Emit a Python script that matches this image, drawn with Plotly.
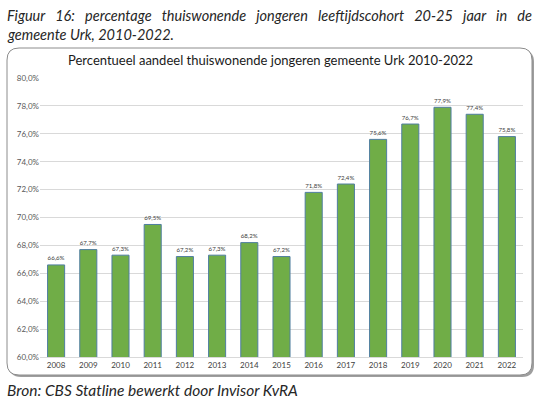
import plotly.graph_objects as go

years = [str(y) for y in range(2008, 2023)]
percentages = [66.6, 67.7, 67.3, 69.5, 67.2, 67.3, 68.2, 67.2, 71.8, 72.4, 75.6, 76.7, 77.9, 77.4, 75.8]

caption_words = ['Figuur', '16:', 'percentage', 'thuiswonende', 'jongeren',
                 'leeftijdscohort', '20-25', 'jaar', 'in', 'de']

W, H = 542, 403
L, R, T, B = 40, 19, 78, 46
pw, ph = W - L - R, H - T - B


def px(x):
    return (x - L) / pw


def py(y):
    return (H - B - y) / ph


def rounded_box(x0, y0, x1, y1, r):
    # rounded rectangle path in paper coordinates (pixel input)
    rx, ry = r / pw, r / ph
    a, b, c, d = px(x0), py(y1), px(x1), py(y0)
    return (f"M {a+rx},{b} L {c-rx},{b} Q {c},{b} {c},{b+ry} L {c},{d-ry} "
            f"Q {c},{d} {c-rx},{d} L {a+rx},{d} Q {a},{d} {a},{d-ry} "
            f"L {a},{b+ry} Q {a},{b} {a+rx},{b} Z")


fig = go.Figure()
fig.add_bar(
    x=years, y=percentages,
    marker=dict(color='#70AD47', line=dict(color='#4F7EA0', width=1)),
    texttemplate='%{y:.1f}%', textposition='outside', cliponaxis=False,
    textfont=dict(size=8.5, color='#404040'),
)

font = 'Lato, "DejaVu Sans", sans-serif'
gap = ' ' + '\u00a0' * 2  # widened spaces to mimic the justified caption line

fig.update_layout(
    width=W, height=H,
    margin=dict(l=L, r=R, t=T, b=B),
    paper_bgcolor='white', plot_bgcolor='white',
    separators=',.',
    font=dict(family=font, color='#404040'),
    showlegend=False,
    bargap=0.47,
    xaxis=dict(showgrid=False, showline=True, linecolor='#D9D9D9', ticks='',
               tickfont=dict(size=8, color='#404040')),
    yaxis=dict(range=[60, 80], dtick=2, tickformat='.1f', ticksuffix='%',
               showgrid=True, gridcolor='#D9D9D9', zeroline=False,
               tickfont=dict(size=8, color='#595959'), ticks='', ticklen=0),
    shapes=[
        dict(type='path', xref='paper', yref='paper', layer='below',
             path=rounded_box(9, 50, 534, 377, 12),
             fillcolor='#9E9E9E', line=dict(width=0)),
        dict(type='path', xref='paper', yref='paper', layer='below',
             path=rounded_box(7, 48, 532, 375, 12),
             fillcolor='white', line=dict(color='#8C8C8C', width=1)),
    ],
    annotations=[
        dict(xref='paper', yref='paper', x=px(5), y=py(16), xanchor='left', yanchor='middle',
             text='<i>' + gap.join(caption_words) + '</i>',
             showarrow=False, font=dict(size=14.5, color='#262626')),
        dict(xref='paper', yref='paper', x=px(5), y=py(34), xanchor='left', yanchor='middle',
             text='<i>gemeente Urk, 2010-2022.</i>',
             showarrow=False, font=dict(size=14.5, color='#262626')),
        dict(xref='paper', yref='paper', x=px(270), y=py(60), xanchor='center', yanchor='middle',
             text='Percentueel aandeel thuiswonende jongeren gemeente Urk 2010-2022',
             showarrow=False, font=dict(size=13, color='#1A1A1A')),
        dict(xref='paper', yref='paper', x=px(5), y=py(390), xanchor='left', yanchor='middle',
             text='<i>Bron: CBS Statline bewerkt door Invisor KvRA</i>',
             showarrow=False, font=dict(size=15.5, color='#262626')),
    ],
)

fig.write_html("out.html", config={'displayModeBar': False},
               post_script="document.body.style.margin='0';")
